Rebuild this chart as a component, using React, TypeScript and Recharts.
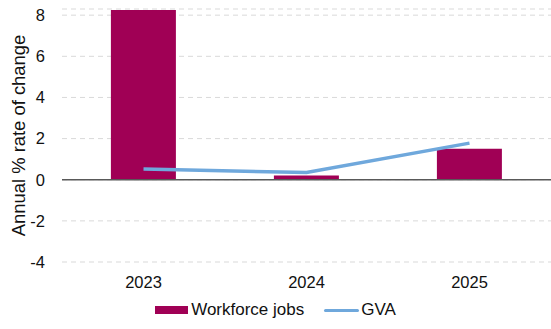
import React from 'react';
import { ComposedChart, Bar, Line, XAxis, YAxis, CartesianGrid, ReferenceLine, Legend } from 'recharts';

const years = ['2023', '2024', '2025'];
const workforceJobs = [8.25, 0.21, 1.5];
const gva = [0.52, 0.35, 1.78];
const yTicks = [-4, -2, 0, 2, 4, 6, 8];

const data = years.map((y, i) => ({ year: y, jobs: workforceJobs[i], gva: gva[i] }));

const FONT = '"Liberation Sans", Arial, sans-serif';
const BAR_COLOR = '#A00055';
const LINE_COLOR = '#6FA8DC';

const LegendContent = () => (
  <div style={{ width: 551, height: 30, display: 'flex', justifyContent: 'center', alignItems: 'flex-start', fontFamily: FONT, fontSize: 17, color: '#111' }}>
    <div style={{ display: 'flex', alignItems: 'center', height: 22 }}>
      <span style={{ display: 'inline-block', width: 33, height: 8, background: BAR_COLOR, marginRight: 3 }} />
      <span>Workforce jobs</span>
      <span style={{ display: 'inline-block', width: 35, height: 3, background: LINE_COLOR, borderRadius: 2, marginLeft: 20, marginRight: 2 }} />
      <span>GVA</span>
    </div>
  </div>
);

export default function App() {
  return (
    <div style={{ position: 'absolute', left: 0, top: 0 }}>
      <ComposedChart width={551} height={329} data={data} margin={{ top: 9, right: 0, left: 0, bottom: 0 }} barCategoryGap="30%">
        <CartesianGrid vertical={false} stroke="#d9d9d9" strokeDasharray="5 4" />
        <XAxis dataKey="year" height={37} axisLine={false} tickLine={false} tickSize={0} tickMargin={14}
          tick={{ fill: '#111', fontSize: 16.5, fontFamily: FONT }} />
        <YAxis width={62} domain={[-4, 8.3]} ticks={yTicks} axisLine={false} tickLine={false} tickSize={0} tickMargin={17}
          allowDataOverflow
          tick={{ fill: '#111', fontSize: 16.5, fontFamily: FONT }}
          label={{
            content: (props: any) => {
              const vb = props.viewBox || { x: 0, y: 9, height: 253 };
              const cx = vb.x + 18;
              const cy = vb.y + vb.height / 2;
              return (
                <text x={cx} y={cy} transform={`rotate(-90 ${cx} ${cy})`} textAnchor="middle" dominantBaseline="central"
                  fontFamily={FONT} fontSize={18.4} fill="#111">Annual % rate of change</text>
              );
            },
          }} />
        <Bar dataKey="jobs" name="Workforce jobs" fill={BAR_COLOR} isAnimationActive={false} />
        <ReferenceLine y={0} stroke="#595959" strokeWidth={1.5} />
        <Line dataKey="gva" name="GVA" stroke={LINE_COLOR} strokeWidth={3.5} dot={false} type="linear" isAnimationActive={false} />
        <Legend verticalAlign="bottom" content={<LegendContent />} wrapperStyle={{ left: 0, width: 551 }} />
      </ComposedChart>
    </div>
  );
}
